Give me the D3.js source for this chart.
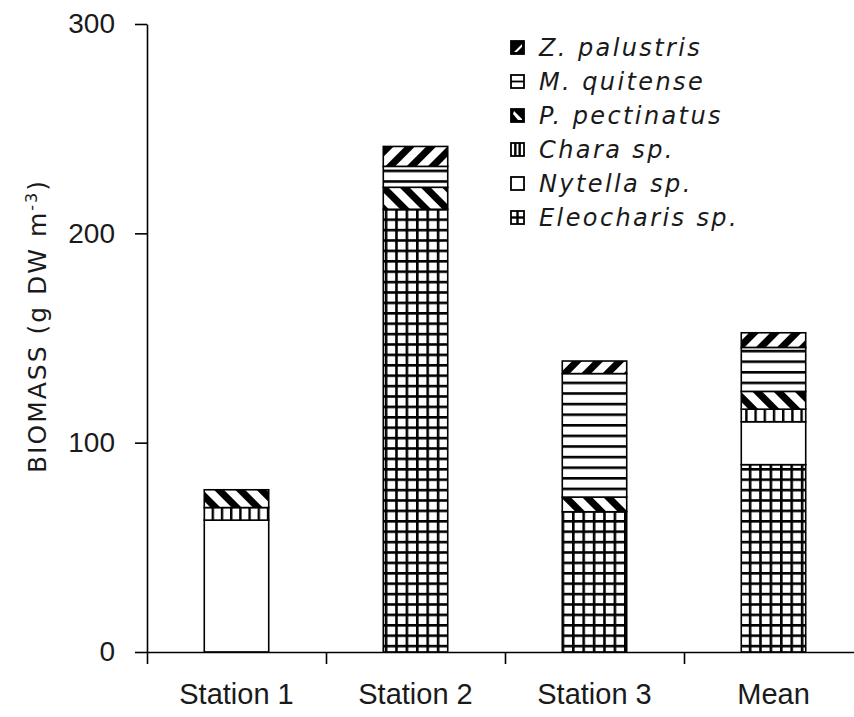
<!DOCTYPE html>
<html>
<head>
<meta charset="utf-8">
<script src="https://cdn.jsdelivr.net/npm/d3@7"></script>
<style>
  html, body { margin: 0; padding: 0; background: #fff; }
  svg { display: block; font-family: "Liberation Sans", Arial, sans-serif; }
</style>
</head>
<body>
<svg id="chart" width="854" height="717"></svg>
<script>
// Sites on the x axis
const stations = ["Station 1", "Station 2", "Station 3", "Mean"];
// Species, stacked bottom to top
const species = ["Eleocharis sp.", "Nytella sp.", "Chara sp.", "P. pectinatus", "M. quitense", "Z. palustris"];
// Biomass per species (g DW m-3), one value per station
const eleocharis  = [0,    211.5, 67, 89.5];
const nytella     = [63,   0,     0,  20.5];
const chara       = [6,    0,     0,  6];
const pectinatus  = [8.5,  10.5,  7,  8.5];
const quitense    = [0,    10,    59, 21];
const palustris   = [0,    9.5,   6,  7];
const yTicks = [0, 100, 200, 300];

const seriesValues = [eleocharis, nytella, chara, pectinatus, quitense, palustris];
const rows = stations.map((s, i) => {
  const r = { station: s };
  species.forEach((k, j) => { r[k] = seriesValues[j][i]; });
  return r;
});

const svg = d3.select("#chart");
const x = d3.scaleBand().domain(stations).range([147, 863]).paddingInner(0.64).paddingOuter(0.32);
const y = d3.scaleLinear().domain([0, 300]).range([652, 24]);
const ink = "#1a1a1a";
const wide = "'DejaVu Sans', Verdana, sans-serif";

// Hatch patterns
const defs = svg.append("defs");
function pat(id, w, h, build, rotate) {
  const p = defs.append("pattern").attr("id", id).attr("patternUnits", "userSpaceOnUse")
    .attr("width", w).attr("height", h);
  if (rotate) p.attr("patternTransform", `rotate(${rotate})`);
  p.append("rect").attr("width", w).attr("height", h).attr("fill", "#fff");
  build(p, w, h);
}
// Eleocharis: square grid
pat("p-grid", 10.4, 10.4, (p, w, h) => {
  p.append("rect").attr("x", 0).attr("y", 0).attr("width", w).attr("height", 2.6).attr("fill", "#000");
  p.append("rect").attr("x", 0).attr("y", 0).attr("width", 2.6).attr("height", h).attr("fill", "#000");
});
// Chara: vertical lines
pat("p-vert", 9.2, 10, (p, w, h) => {
  p.append("rect").attr("x", 0).attr("y", 0).attr("width", 2.4).attr("height", h).attr("fill", "#000");
});
// M. quitense: horizontal lines
pat("p-horiz", 10, 10.6, (p, w, h) => {
  p.append("rect").attr("x", 0).attr("y", 0).attr("width", w).attr("height", 2.6).attr("fill", "#000");
});
// P. pectinatus: thick backslash stripes
pat("p-back", 15, 15, (p, w, h) => {
  p.append("rect").attr("x", 0).attr("y", 0).attr("width", 7).attr("height", h).attr("fill", "#000");
}, -45);
// Z. palustris: thick slash stripes
pat("p-slash", 15, 15, (p, w, h) => {
  p.append("rect").attr("x", 0).attr("y", 0).attr("width", 7).attr("height", h).attr("fill", "#000");
}, 45);

const fills = {
  "Eleocharis sp.": "url(#p-grid)",
  "Nytella sp.": "#fff",
  "Chara sp.": "url(#p-vert)",
  "P. pectinatus": "url(#p-back)",
  "M. quitense": "url(#p-horiz)",
  "Z. palustris": "url(#p-slash)"
};

// Stacked bars
const stacked = d3.stack().keys(species)(rows);
svg.append("g").selectAll("g").data(stacked).join("g")
  .attr("fill", d => fills[d.key])
  .selectAll("rect").data(d => d.filter(v => v[1] - v[0] > 0)).join("rect")
  .attr("x", d => x(d.data.station))
  .attr("width", x.bandwidth())
  .attr("y", d => y(d[1]))
  .attr("height", d => y(d[0]) - y(d[1]))
  .attr("stroke", "#000").attr("stroke-width", 1.6);

// Y axis
const yAxis = svg.append("g").attr("transform", "translate(147,0)")
  .call(d3.axisLeft(y).tickValues(yTicks).tickSize(12).tickPadding(20).tickSizeOuter(0));
yAxis.select(".domain").attr("stroke", "#000").attr("stroke-width", 1.6);
yAxis.selectAll(".tick line").attr("stroke", "#000").attr("stroke-width", 1.6);
yAxis.selectAll(".tick text").attr("font-size", 28).attr("fill", ink)
  .attr("font-family", "'Liberation Sans', Arial, sans-serif");

// X axis: boundary ticks between stations, labels at band centres
const xb = d3.scaleLinear().domain([0, stations.length]).range([147, 863]);
const xAxis = svg.append("g").attr("transform", `translate(0,${y(0)})`)
  .call(d3.axisBottom(xb).tickValues(d3.range(stations.length + 1)).tickSize(12).tickSizeOuter(0).tickFormat(""));
xAxis.select(".domain").attr("stroke", "#000").attr("stroke-width", 1.6);
xAxis.selectAll(".tick line").attr("stroke", "#000").attr("stroke-width", 1.6);

const xLabels = svg.append("g").attr("transform", `translate(0,${y(0)})`)
  .call(d3.axisBottom(x).tickSize(0).tickPadding(31));
xLabels.select(".domain").remove();
xLabels.selectAll(".tick text").attr("font-size", 29).attr("fill", ink)
  .attr("font-family", "'Liberation Sans', Arial, sans-serif");

// Y axis title
const yt = svg.append("text")
  .attr("transform", "translate(46,326) rotate(-90)")
  .attr("text-anchor", "middle").attr("font-size", 25).attr("letter-spacing", 2)
  .attr("font-family", wide).attr("fill", ink);
yt.append("tspan").text("BIOMASS (g DW m");
yt.append("tspan").attr("baseline-shift", "super").attr("font-size", 16).text("-3");
yt.append("tspan").text(")");

// Legend, top entry first
const legendOrder = species.slice().reverse();
const lg = svg.append("g").attr("transform", "translate(510,39)");
const item = lg.selectAll("g").data(legendOrder).join("g")
  .attr("transform", (d, i) => `translate(0,${i * 34})`);
item.append("text").attr("x", 29).attr("y", 17).attr("font-size", 24)
  .attr("letter-spacing", 2.4).attr("font-family", wide)
  .attr("font-style", "italic").attr("fill", ink).text(d => d);

const s = 13;
item.each(function(d) {
  const g = d3.select(this);
  const box = () => g.append("rect").attr("x", 1).attr("y", 2).attr("width", s).attr("height", s)
    .attr("fill", "none").attr("stroke", "#000").attr("stroke-width", 1.8);
  const oy = 2;
  if (d === "Z. palustris") {
    g.append("rect").attr("x", 1).attr("y", oy).attr("width", s).attr("height", s).attr("fill", "#000");
    g.append("path").attr("d", `M${4},${oy + s - 2} L${s - 1},${oy + 3} L${s - 1},${oy + 6} L${7},${oy + s - 2} Z`).attr("fill", "#fff");
    box();
  } else if (d === "P. pectinatus") {
    g.append("rect").attr("x", 1).attr("y", oy).attr("width", s).attr("height", s).attr("fill", "#000");
    g.append("path").attr("d", `M${4},${oy + 2} L${s - 1},${oy + s - 3} L${s - 1},${oy + s - 2} L${8},${oy + s - 2} L${3},${oy + 5} Z`).attr("fill", "#fff");
    box();
  } else if (d === "M. quitense") {
    box();
    g.append("line").attr("x1", 1).attr("x2", 1 + s).attr("y1", oy + s / 2).attr("y2", oy + s / 2)
      .attr("stroke", "#000").attr("stroke-width", 1.8);
  } else if (d === "Chara sp.") {
    box();
    [s / 3, 2 * s / 3].forEach(v => g.append("line").attr("x1", 1 + v).attr("x2", 1 + v)
      .attr("y1", oy).attr("y2", oy + s).attr("stroke", "#000").attr("stroke-width", 2.4));
  } else if (d === "Nytella sp.") {
    box();
  } else {
    box();
    g.append("line").attr("x1", 1).attr("x2", 1 + s).attr("y1", oy + s / 2).attr("y2", oy + s / 2)
      .attr("stroke", "#000").attr("stroke-width", 2.4);
    g.append("line").attr("x1", 1 + s / 2).attr("x2", 1 + s / 2).attr("y1", oy).attr("y2", oy + s)
      .attr("stroke", "#000").attr("stroke-width", 2.4);
  }
});
</script>
</body>
</html>
